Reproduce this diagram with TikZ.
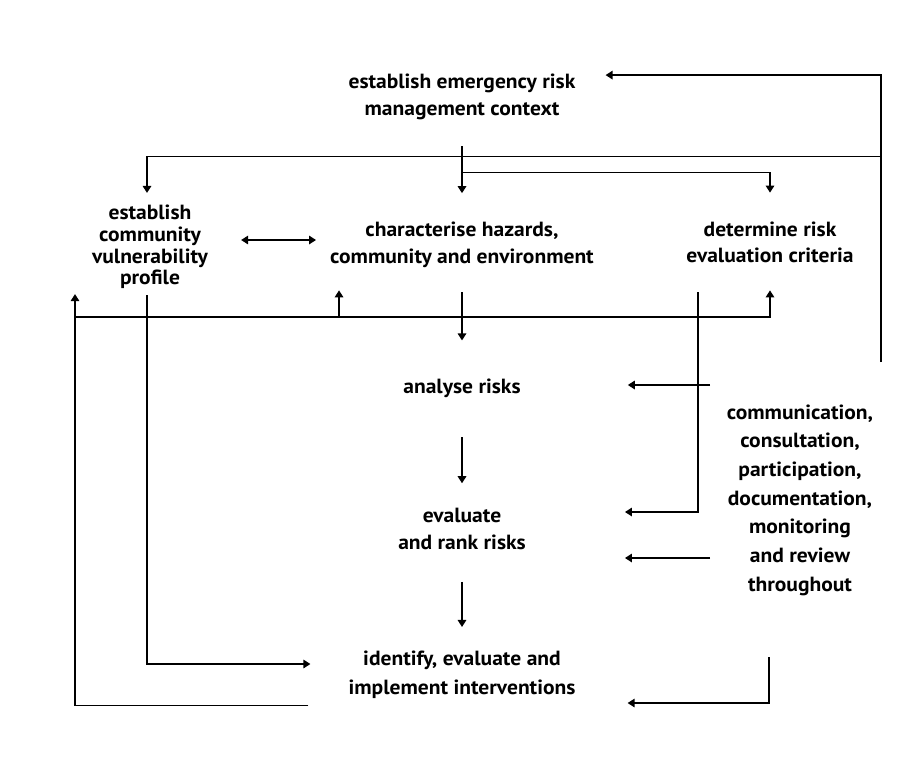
\documentclass[tikz,border=0pt]{standalone}
\usepackage{fontspec}
\setmainfont{PT Sans}[FakeStretch=1.05]
\usetikzlibrary{arrows.meta}

\begin{document}
\begin{tikzpicture}[x=1pt,y=-1pt,
  lbl/.style={align=center, inner sep=0pt, font=\bfseries\fontsize{20.5}{26.5}\selectfont},
  flow/.style={line width=1.5pt, -{Triangle[length=7pt,width=8.5pt]}},
  both/.style={line width=1.5pt, {Triangle[length=7pt,width=8.5pt]}-{Triangle[length=7pt,width=8.5pt]}}]
  \useasboundingbox[fill=white] (0,0) rectangle (909,769);
  % stages
  \node[lbl] (ctx) at (462,97) {establish emergency risk\\management context};
  \node[lbl, font=\bfseries\fontsize{20.5}{21.7}\selectfont] (profile) at (150,247) {establish\\community\\vulnerability\\profile};
  \node[lbl] (hazards) at (462,245) {characterise hazards,\\community and environment};
  \node[lbl] (criteria) at (770,242.5) {determine risk\\evaluation criteria};
  \node[lbl] (analyse) at (462,388) {analyse risks};
  \node[lbl] (evalrank) at (462,529) {evaluate\\and rank risks};
  \node[lbl, font=\bfseries\fontsize{20.5}{29}\selectfont] (interv) at (462,675) {identify, evaluate and\\implement interventions};
  \node[lbl, font=\bfseries\fontsize{20.5}{28.7}\selectfont] (comm) at (800,500) {communication,\\consultation,\\participation,\\documentation,\\monitoring\\and review\\throughout};

  % down the middle
  \draw[flow] ([yshift=-26.5pt]ctx.south) -- ([yshift=29pt]hazards.north);
  \draw[flow] ([yshift=-52.5pt]ctx.south) -| ([yshift=29pt]criteria.north);
  \draw[flow] ([yshift=-24.5pt]hazards.south) -- ([yshift=38pt]analyse.north);
  \draw[flow] ([yshift=-39.5pt]analyse.south) -- ([yshift=25pt]evalrank.north);
  \draw[flow] ([yshift=-32pt]evalrank.south) -- ([yshift=24pt]interv.north);
  \draw[both] ([xshift=33pt,yshift=7pt]profile.east) -- ([xshift=-14pt,yshift=5pt]hazards.west);

  % feedback from communication
  \coordinate (rfoot) at (881,362);
  \coordinate (topbar) at ([yshift=-36.5pt]ctx.south);
  \draw[flow] (rfoot) |- ([xshift=30pt,yshift=-1pt]ctx.north east);
  \draw[flow] (rfoot |- topbar) -| ([xshift=-3pt,yshift=12pt]profile.north);
  \coordinate (cA) at (710,385);
  \coordinate (cE) at (710,558);
  \coordinate (cI) at (769,657);
  \draw[flow] (cA) -- ([xshift=107pt,yshift=3pt]analyse.east);
  \draw[flow] (cE) -- ([xshift=99pt,yshift=-29pt]evalrank.east);
  \draw[flow] (cI) |- ([xshift=52pt,yshift=-28pt]interv.east);

  % criteria into evaluation
  \draw[flow] ([xshift=-72pt,yshift=-29pt]criteria.south) |- ([xshift=99pt,yshift=17pt]evalrank.east);

  % profile into interventions
  \draw[flow] ([xshift=-3pt,yshift=-6pt]profile.south) |- ([xshift=-38pt,yshift=11pt]interv.west);

  % interventions back to the start
  \coordinate (fbStart) at ([xshift=-40pt,yshift=-6.5pt]interv.south west);
  \coordinate (fbTip) at ([xshift=-75pt,yshift=-5pt]profile.south);
  \coordinate (hzTip) at ([xshift=9pt,yshift=-22.5pt]hazards.south west);
  \draw[flow] (fbStart) -| (fbTip);
  \coordinate (lowbar) at (fbTip |- 0,317);
  \draw[flow] (lowbar) -| ([yshift=-27pt]criteria.south);
  \draw[flow] (lowbar -| hzTip) -- (hzTip);
\end{tikzpicture}
\end{document}
